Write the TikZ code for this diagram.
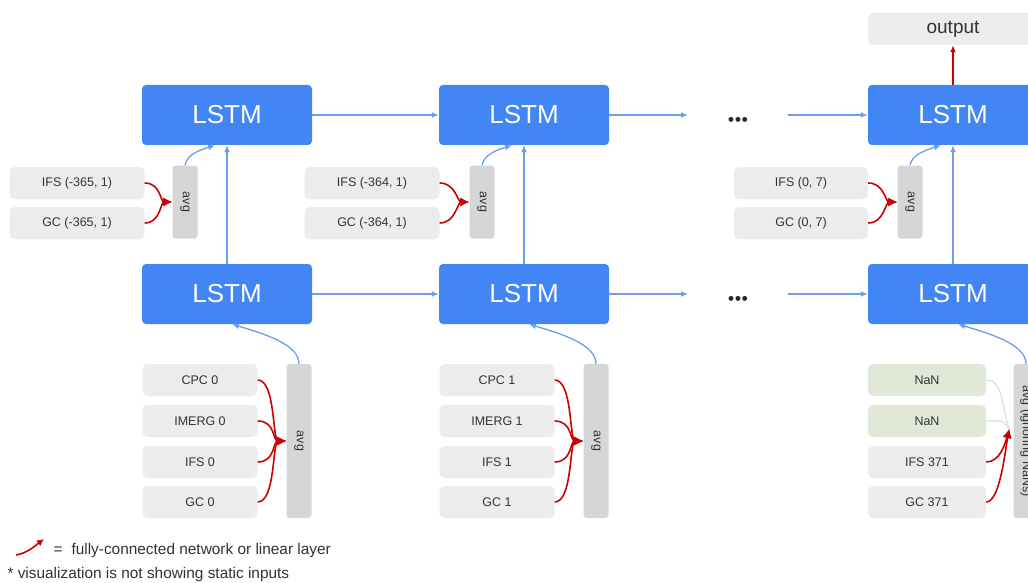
\documentclass[tikz,border=0pt]{standalone}
\usepackage{fontspec}
\setmainfont{Liberation Sans}
\usetikzlibrary{arrows.meta}
\usetikzlibrary{calc}

\definecolor{lstmBlue}{HTML}{4285F4}
\definecolor{linkBlue}{HTML}{6D9EEB}
\definecolor{fcRed}{HTML}{CC0000}
\definecolor{inputGray}{HTML}{ECECEC}
\definecolor{avgGray}{HTML}{D6D6D6}
\definecolor{nanGreen}{HTML}{E2E8D8}
\definecolor{nanLink}{HTML}{DCE4D4}
\definecolor{labelGray}{HTML}{333333}

\begin{document}
\begin{tikzpicture}[x = 1pt, y = -1pt]
	\tikzstyle{lstmStyle} = [shape = rectangle, rounded corners = 4pt, fill = lstmBlue, text = white, minimum width = 170pt, minimum height = 60pt, font = \fontsize{26}{26}\selectfont]
	\tikzstyle{outStyle} = [shape = rectangle, rounded corners = 5pt, fill = inputGray, text = labelGray, minimum width = 170pt, minimum height = 32pt, font = \fontsize{19}{19}\selectfont]
	\tikzstyle{inStyle} = [shape = rectangle, rounded corners = 5pt, fill = inputGray, text = labelGray, minimum height = 32pt, font = \fontsize{12.5}{12.5}\selectfont]
	\tikzstyle{nanStyle} = [inStyle, fill = nanGreen]
	\tikzstyle{avgStyle} = [shape = rectangle, rounded corners = 3pt, fill = avgGray, text = labelGray, minimum height = 25pt, inner sep = 2pt, font = \fontsize{12.5}{12.5}\selectfont, rotate = -90]
	\tikzstyle{dotsStyle} = [font = \bfseries\fontsize{17}{17}\selectfont, text = black!85]
	\tikzstyle{blueEdge} = [draw = linkBlue, line width = 1.3pt, -{Latex[length = 7pt, width = 6pt]}]
	\tikzstyle{redEdge} = [draw = fcRed, line width = 1.6pt, -{Latex[length = 9pt, width = 9pt]}]
	\tikzstyle{nanEdge} = [draw = nanLink, line width = 1.3pt]
	\tikzstyle{noteStyle} = [anchor = west, font = \fontsize{15.4}{15.4}\selectfont, text = labelGray]
	\clip (0,0) rectangle (1028,583);
	\fill[white] (0,0) rectangle (1028,583);
	% lstm cells
	\node[lstmStyle] (t0) at (227,115) {LSTM};
	\node[lstmStyle] (t1) at (524,115) {LSTM};
	\node[lstmStyle] (t2) at (953,115) {LSTM};
	\node[lstmStyle] (b0) at (227,294) {LSTM};
	\node[lstmStyle] (b1) at (524,294) {LSTM};
	\node[lstmStyle] (b2) at (953,294) {LSTM};
	\node[outStyle] (out) at (953,29) {output};
	\node[dotsStyle] (d0) at (738,121) {\textbullet\hspace{1pt}\textbullet\hspace{1pt}\textbullet};
	\node[dotsStyle] (d1) at (738,300) {\textbullet\hspace{1pt}\textbullet\hspace{1pt}\textbullet};
	\coordinate (tIn) at (688,115);
	\coordinate (tOut) at (788,115);
	\coordinate (bIn) at (688,294);
	\coordinate (bOut) at (788,294);
	% top inputs
	\node[inStyle, minimum width = 135pt] (p0) at (77,183) {IFS (-365, 1)};
	\node[inStyle, minimum width = 135pt] (q0) at (77,223) {GC (-365, 1)};
	\node[avgStyle, minimum width = 73pt] (a0) at (185,202) {avg};
	\node[inStyle, minimum width = 135pt] (p1) at (372,183) {IFS (-364, 1)};
	\node[inStyle, minimum width = 135pt] (q1) at (372,223) {GC (-364, 1)};
	\node[avgStyle, minimum width = 73pt] (a1) at (482,202) {avg};
	\node[inStyle, minimum width = 134pt] (p2) at (801,183) {IFS (0, 7)};
	\node[inStyle, minimum width = 134pt] (q2) at (801,223) {GC (0, 7)};
	\node[avgStyle, minimum width = 73pt] (a2) at (910,202) {avg};
	% bottom inputs
	\node[inStyle, minimum width = 115pt] (c0) at (200,380) {CPC 0};
	\node[inStyle, minimum width = 115pt] (m0) at (200,421) {IMERG 0};
	\node[inStyle, minimum width = 115pt] (f0) at (200,462) {IFS 0};
	\node[inStyle, minimum width = 115pt] (g0) at (200,502) {GC 0};
	\node[avgStyle, minimum width = 154pt] (s0) at (299,441) {avg};
	\node[inStyle, minimum width = 115pt] (c1) at (497,380) {CPC 1};
	\node[inStyle, minimum width = 115pt] (m1) at (497,421) {IMERG 1};
	\node[inStyle, minimum width = 115pt] (f1) at (497,462) {IFS 1};
	\node[inStyle, minimum width = 115pt] (g1) at (497,502) {GC 1};
	\node[avgStyle, minimum width = 154pt] (s1) at (596,441) {avg};
	\node[nanStyle, minimum width = 118pt] (c2) at (927,380) {NaN};
	\node[nanStyle, minimum width = 118pt] (m2) at (927,421) {NaN};
	\node[inStyle, minimum width = 118pt] (f2) at (927,462) {IFS 371};
	\node[inStyle, minimum width = 118pt] (g2) at (927,502) {GC 371};
	\node[avgStyle, minimum width = 154pt] (s2) at (1026,441) {avg (ignoring NaNs)};
	% recurrent links
	\draw[blueEdge] (t0) -- (t1);
	\draw[blueEdge] (t1) -- (tIn);
	\draw[blueEdge] (tOut) -- (t2);
	\draw[blueEdge] (b0) -- (b1);
	\draw[blueEdge] (b1) -- (bIn);
	\draw[blueEdge] (bOut) -- (b2);
	\draw[blueEdge] (b0) -- (t0);
	\draw[blueEdge] (b1) -- (t1);
	\draw[blueEdge] (b2) -- (t2);
	\draw[redEdge, -{Latex[length = 7pt, width = 6pt]}] (t2) -- (out);
	% avg to lstm
	\draw[blueEdge] (a0.west) .. controls +(2,-12) and +(-12,4) .. ($(t0.south)+(-12,0)$);
	\draw[blueEdge] (a1.west) .. controls +(2,-12) and +(-12,4) .. ($(t1.south)+(-12,0)$);
	\draw[blueEdge] (a2.west) .. controls +(2,-12) and +(-12,4) .. ($(t2.south)+(-12,0)$);
	\draw[blueEdge] (s0.west) .. controls +(0,-20) and +(30,9) .. ($(b0.south)+(5,0)$);
	\draw[blueEdge] (s1.west) .. controls +(0,-20) and +(30,9) .. ($(b1.south)+(5,0)$);
	\draw[blueEdge] (s2.west) .. controls +(0,-20) and +(30,9) .. ($(b2.south)+(5,0)$);
	% fully-connected layers
	\draw[redEdge] (p0.east) .. controls +(16,0) and +(-12,0) .. (a0.south);
	\draw[redEdge] (q0.east) .. controls +(16,0) and +(-12,0) .. (a0.south);
	\draw[redEdge] (p1.east) .. controls +(16,0) and +(-12,0) .. (a1.south);
	\draw[redEdge] (q1.east) .. controls +(16,0) and +(-12,0) .. (a1.south);
	\draw[redEdge] (p2.east) .. controls +(16,0) and +(-12,0) .. (a2.south);
	\draw[redEdge] (q2.east) .. controls +(16,0) and +(-12,0) .. (a2.south);
	\draw[redEdge] (c0.east) .. controls +(18,0) and +(-14,0) .. (s0.south);
	\draw[redEdge] (m0.east) .. controls +(18,0) and +(-14,0) .. (s0.south);
	\draw[redEdge] (f0.east) .. controls +(18,0) and +(-14,0) .. (s0.south);
	\draw[redEdge] (g0.east) .. controls +(18,0) and +(-14,0) .. (s0.south);
	\draw[redEdge] (c1.east) .. controls +(18,0) and +(-14,0) .. (s1.south);
	\draw[redEdge] (m1.east) .. controls +(18,0) and +(-14,0) .. (s1.south);
	\draw[redEdge] (f1.east) .. controls +(18,0) and +(-14,0) .. (s1.south);
	\draw[redEdge] (g1.east) .. controls +(18,0) and +(-14,0) .. (s1.south);
	\draw[nanEdge] (c2.east) .. controls +(18,0) and +(-8,-20) .. ($(s2.south)+(-4,-12)$);
	\draw[nanEdge] (m2.east) .. controls +(18,0) and +(-8,-10) .. ($(s2.south)+(-4,-12)$);
	\draw[redEdge] (f2.east) .. controls +(14,0) and +(-4,14) .. ($(s2.south)+(-4,-12)$);
	\draw[redEdge] (g2.east) .. controls +(14,0) and +(-4,20) .. ($(s2.south)+(-4,-12)$);
	% legend
	\coordinate (k0) at (16,555);
	\coordinate (k1) at (44,539);
	\draw[redEdge, -{Latex[length = 7pt, width = 7pt]}] (k0) .. controls +(12,-2) and +(-8,6) .. (k1);
	\node[noteStyle] (key) at (50,551) {=\hspace{9pt}fully-connected network or linear layer};
	\node[noteStyle] (note) at (4,575) {* visualization is not showing static inputs};
\end{tikzpicture}
\end{document}
